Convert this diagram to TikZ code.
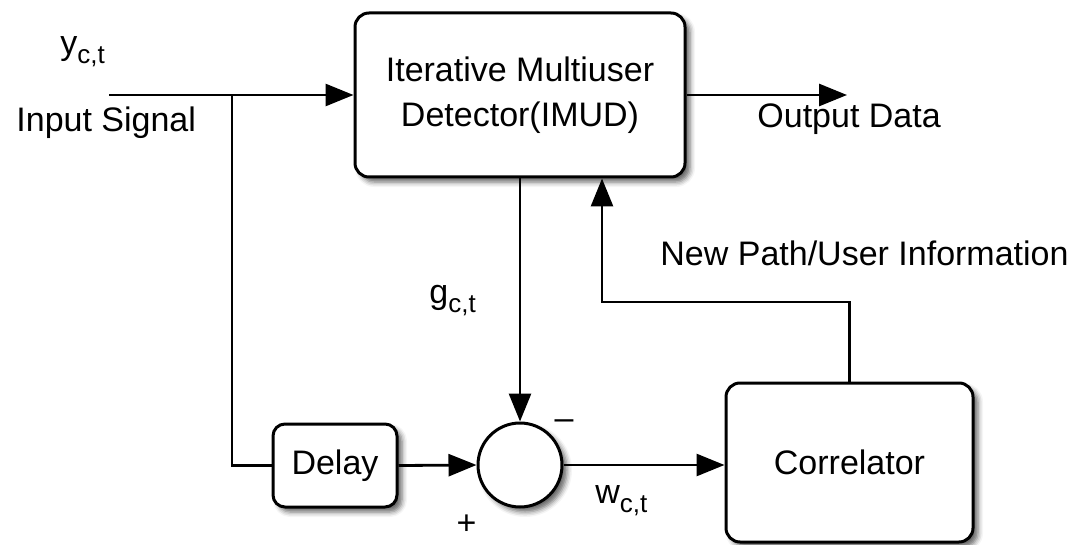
\documentclass[tikz,border=0pt]{standalone}
\usepackage{fontspec}
\setmainfont{Liberation Sans}
\usetikzlibrary{arrows.meta,shadows.blur,calc}

% lowered small subscript used in the signal labels
\newcommand{\lowsub}[1]{\raisebox{-4.5pt}{\fontsize{13}{13}\selectfont #1}}

\tikzset{
  softshadow/.style={blur shadow={shadow xshift=2.5pt, shadow yshift=-2.5pt,
    shadow blur radius=2.5pt, shadow opacity=60}},
  block/.style={draw, line width=1.5pt, rounded corners=7pt, fill=white, softshadow,
    align=center, inner sep=0pt, font=\fontsize{17}{22.5}\selectfont},
  summer/.style={draw, circle, line width=1.5pt, fill=white, minimum size=42pt, inner sep=0pt, softshadow},
  wire/.style={line width=1.4pt, -{Triangle[length=14pt,width=11pt]}},
  plain/.style={line width=1.4pt},
  lbl/.style={inner sep=0pt, font=\fontsize{17}{20}\selectfont},
}

\begin{document}
\begin{tikzpicture}[x=0.5pt, y=-0.5pt]
  \useasboundingbox (0,0) rectangle (1080,545);

  % blocks
  \node[block, minimum width=165pt, minimum height=82pt] (imud) at (520,95)
    {Iterative Multiuser\\Detector(IMUD)};
  \node[block, rounded corners=6pt, minimum width=62pt, minimum height=41.5pt] (delay) at (335,465.5) {Delay};
  \node[summer] (sum) at (520,465) {};
  \node[block, minimum width=123.5pt, minimum height=79.5pt] (corr) at (849.5,462.5) {Correlator};

  % free ends and bends
  \coordinate (in) at (109,95);
  \coordinate (split) at (232,95);
  \coordinate (out) at (847,95);
  \coordinate (fbr) at (849.5,302);
  \coordinate (fbl) at (602,302);

  % connectors
  \draw[wire] (in) -- (imud.west);
  \draw[plain] (split) |- (delay.west);
  \draw[wire] (delay.east) -- (sum.west);
  \draw[wire] (imud.south) -- (sum.north);
  \draw[wire] (sum.east) -- (sum.east -| corr.west);
  \draw[wire] (imud.east) -- (out);
  \draw[wire] (corr.north) -- (fbr) -- (fbl) -- (fbl |- imud.south);

  % labels
  \node[lbl, anchor=base west] (ylbl) at (60,55) {y\lowsub{c,t}};
  \node[lbl, anchor=base west] (inlbl) at (16,132) {Input Signal};
  \node[lbl, anchor=base west] (outlbl) at (757,128) {Output Data};
  \node[lbl, anchor=base west] (fblbl) at (660,265) {New Path/User Information};
  \node[lbl, anchor=base west] (glbl) at (429,303) {g\lowsub{c,t}};
  \node[lbl, anchor=base west] (wlbl) at (595,503) {w\lowsub{c,t}};
  \node[lbl, anchor=base] (minus) at (564,429) {–};
  \node[lbl, anchor=base] (plus) at (466.5,534) {+};
\end{tikzpicture}
\end{document}
